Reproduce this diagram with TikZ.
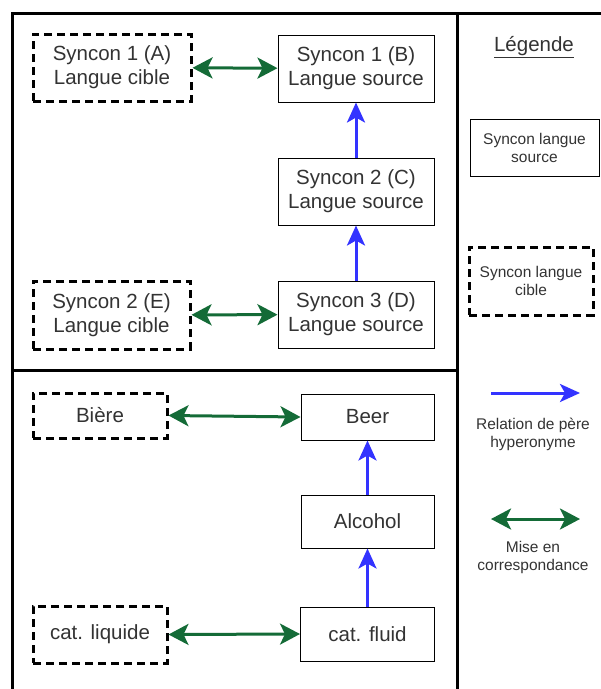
\documentclass[tikz,border=0pt]{standalone}
\usepackage{fontspec}
\setmainfont{Liberation Sans}
\usetikzlibrary{arrows.meta}
\definecolor{txt}{HTML}{333333}
\definecolor{grn}{HTML}{146B37}
\definecolor{blu}{HTML}{3333FF}
\begin{document}
\begin{tikzpicture}[x=1pt,y=-1pt,
  src/.style={draw=black, line width=1pt, fill=white, text=txt, align=center, inner sep=0pt, font=\fontsize{20.5}{24}\selectfont},
  tgt/.style={draw=black, line width=3pt, dash pattern=on 8pt off 5pt, fill=white, text=txt, align=center, inner sep=0pt, font=\fontsize{20.5}{24}\selectfont},
  small/.style={font=\fontsize{15.5}{18}\selectfont},
  frame/.style={line width=3pt, line cap=rect},
  hyper/.style={blu, line width=3pt, -{Stealth[length=20pt, width=18pt, inset=5pt]}},
  corr/.style={grn, line width=3pt, {Stealth[length=20pt, width=21pt, inset=5pt]}-{Stealth[length=20pt, width=21pt, inset=5pt]}},
  lbl/.style={text=txt, align=center, inner sep=0pt}]
\useasboundingbox (0,0) rectangle (601,689);
% frame
\draw[frame] (601,13) -- (12,13) -- (12,689);
\draw[frame] (457,13) -- (457,689);
\draw[frame] (12,370) -- (457,370);
% top section
\node[tgt, minimum width=158pt, minimum height=67pt] (A) at (112,67.5) {Syncon 1 (A)\\Langue cible};
\node[src, minimum width=156pt, minimum height=67pt] (B) at (356,68.5) {Syncon 1 (B)\\Langue source};
\node[src, minimum width=156pt, minimum height=67pt] (C) at (356,191.5) {Syncon 2 (C)\\Langue source};
\node[src, minimum width=156pt, minimum height=67pt] (D) at (356,314.5) {Syncon 3 (D)\\Langue source};
\node[tgt, minimum width=157pt, minimum height=68pt] (E) at (111.5,315) {Syncon 2 (E)\\Langue cible};
\draw[corr] (A) -- (B);
\draw[hyper] (C) -- (B);
\draw[hyper] (D) -- (C);
\draw[corr] (E) -- (D);
% bottom section
\node[tgt, minimum width=134pt, minimum height=45pt] (biere) at (100,415.5) {Bière};
\node[src, minimum width=133pt, minimum height=46pt] (beer) at (367.5,417) {Beer};
\node[src, minimum width=133pt, minimum height=53pt] (alc) at (367.5,521.5) {Alcohol};
\node[src, minimum width=134pt, minimum height=54pt] (fluid) at (367.5,634) {cat. fluid};
\node[tgt, minimum width=134pt, minimum height=57pt] (liq) at (100,634.5) {cat. liquide};
\draw[corr] (biere.east) -- (beer.west);
\draw[hyper] (alc) -- (beer);
\draw[hyper] (fluid) -- (alc);
\draw[corr] (liq.east) -- (fluid.west);
% legend
\node[lbl, font=\fontsize{20.5}{24}\selectfont] (leg) at (534,47) {\underline{Légende}};
\node[src, small, minimum width=129pt, minimum height=57pt] (ls) at (534.5,147.5) {Syncon langue\\source};
\node[tgt, small, minimum width=124pt, minimum height=68pt] (lc) at (531,281) {Syncon langue\\cible};
\coordinate (h1) at (491,393);
\coordinate (h2) at (580,393);
\draw[hyper] (h1) -- (h2);
\node[lbl, small] (hl) at (533,434) {Relation de père\\hyperonyme};
\coordinate (c1) at (491,519);
\coordinate (c2) at (580,519);
\draw[corr] (c1) -- (c2);
\node[lbl, small] (cl) at (533,557) {Mise en\\correspondance};
\end{tikzpicture}
\end{document}
